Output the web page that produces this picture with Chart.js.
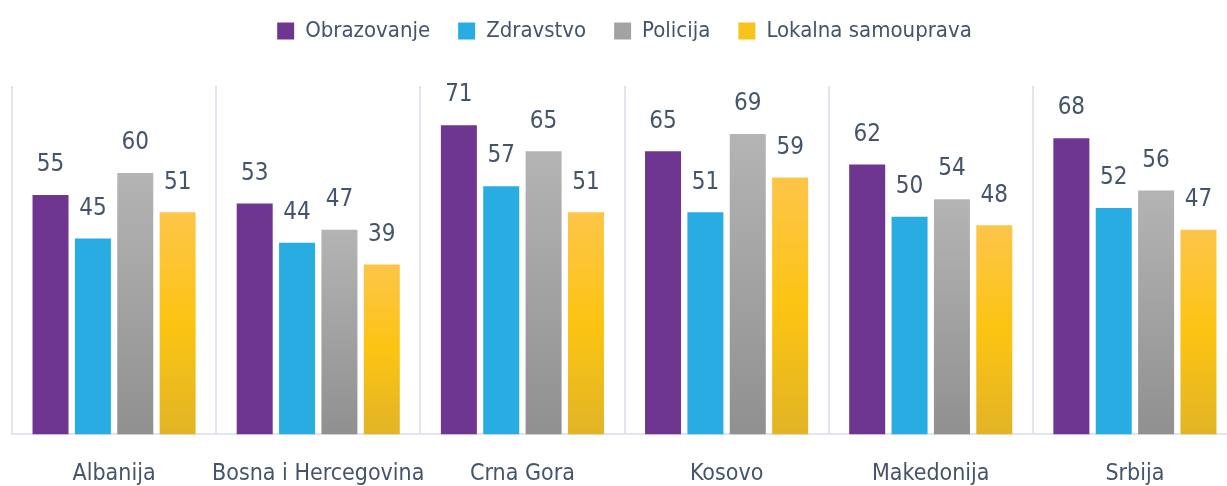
<!DOCTYPE html>
<html>
<head>
<meta charset="utf-8">
<script src="https://cdn.jsdelivr.net/npm/chart.js@4.4.1/dist/chart.umd.min.js"></script>
<style>
    html, body { margin: 0; padding: 0; background: #fff; overflow: hidden; }
    #wrap { position: absolute; left: 0; top: 0; width: 1260px; height: 514px; }
</style>
</head>
<body>
<div id="wrap"><canvas id="chart" width="1260" height="514"></canvas></div>
<script>
// --- Data ---
const categories = ['Albanija', 'Bosna i Hercegovina', 'Crna Gora', 'Kosovo', 'Makedonija', 'Srbija'];
const seriesNames = ['Obrazovanje', 'Zdravstvo', 'Policija', 'Lokalna samouprava'];
const obrazovanje = [55, 53, 71, 65, 62, 68];
const zdravstvo = [45, 44, 57, 51, 50, 52];
const policija = [60, 47, 65, 69, 54, 56];
const lokalna = [51, 39, 51, 59, 48, 47];

const FONT = "'DejaVu Sans Condensed', 'Liberation Sans Narrow', sans-serif";
const textColor = '#44546a';
const gridColor = '#e1e6ee';

// gradient per bar, top -> bottom
function barGradient(stops) {
    return (ctx) => {
        const chart = ctx.chart;
        const y = chart.scales.y;
        if (!y || ctx.type !== 'data') return stops[0][1];
        const top = y.getPixelForValue(ctx.parsed.y);
        const bottom = y.getPixelForValue(0);
        const g = chart.ctx.createLinearGradient(0, top, 0, bottom);
        stops.forEach(s => g.addColorStop(s[0], s[1]));
        return g;
    };
}

const grayStops = [[0, '#b4b4b4'], [1, '#909090']];
const yellowStops = [[0, '#fdc549'], [0.5, '#fcc412'], [1, '#e2b426']];

// push the plot area down below the legend
const legendSpace = {
    id: 'legendSpace',
    beforeInit(chart) {
        const fit = chart.legend.fit;
        chart.legend.fit = function () {
            fit.call(this);
            this.height += 34;
        };
    }
};

// value labels above the bars
const valueLabels = {
    id: 'valueLabels',
    afterDatasetsDraw(chart) {
        const ctx = chart.ctx;
        ctx.save();
        ctx.font = '24px ' + FONT;
        ctx.fillStyle = textColor;
        ctx.textAlign = 'center';
        ctx.textBaseline = 'middle';
        chart.data.datasets.forEach((ds, i) => {
            chart.getDatasetMeta(i).data.forEach((bar, j) => {
                ctx.fillText(ds.data[j], bar.x, bar.y - 30);
            });
        });
        ctx.restore();
    }
};

new Chart(document.getElementById('chart'), {
    type: 'bar',
    data: {
        labels: categories,
        datasets: [
            { label: seriesNames[0], data: obrazovanje, backgroundColor: '#6f3691' },
            { label: seriesNames[1], data: zdravstvo, backgroundColor: '#29ace2' },
            { label: seriesNames[2], data: policija, backgroundColor: barGradient(grayStops) },
            { label: seriesNames[3], data: lokalna, backgroundColor: barGradient(yellowStops) }
        ]
    },
    options: {
        responsive: false,
        animation: false,
        devicePixelRatio: 1,
        layout: { padding: { left: 12, right: 23, top: -8, bottom: 0 } },
        datasets: {
            bar: { categoryPercentage: 0.83, barPercentage: 0.85 }
        },
        scales: {
            x: {
                offset: true,
                grid: { display: true, offset: true, color: gridColor, lineWidth: 2, drawTicks: false },
                border: { display: true, color: gridColor, width: 2 },
                ticks: { color: textColor, font: { family: FONT, size: 23 }, padding: 26, maxRotation: 0, autoSkip: false }
            },
            y: {
                display: false,
                min: 0,
                max: 80
            }
        },
        plugins: {
            legend: {
                position: 'top',
                labels: {
                    color: textColor,
                    font: { family: FONT, size: 22 },
                    boxWidth: 17,
                    boxHeight: 17,
                    padding: 28,
                    generateLabels(chart) {
                        const fills = ['#6f3691', '#29ace2', '#a3a3a3', '#f7c31c'];
                        return chart.data.datasets.map((ds, i) => ({
                            text: ds.label,
                            fillStyle: fills[i],
                            strokeStyle: fills[i],
                            lineWidth: 0,
                            fontColor: textColor,
                            datasetIndex: i
                        }));
                    }
                }
            },
            tooltip: { enabled: false }
        }
    },
    plugins: [legendSpace, valueLabels]
});
</script>
</body>
</html>
